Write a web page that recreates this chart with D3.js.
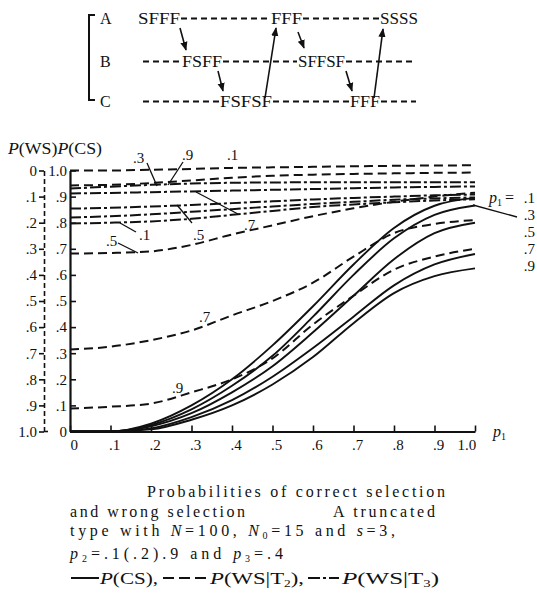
<!DOCTYPE html>
<html>
<head>
<meta charset="utf-8">
<script src="https://cdn.jsdelivr.net/npm/d3@7"></script>
<style>
  body { margin: 0; background: #fff; }
  svg { display: block; }
  text { font-family: "Liberation Serif", "DejaVu Serif", serif; fill: #111; }
</style>
</head>
<body>
<svg id="chart" width="537" height="593"></svg>
<script>
// ---- data ----
const p1 = [0, .1, .2, .3, .4, .5, .6, .7, .8, .9, 1.0];
const p2Levels = [".1", ".3", ".5", ".7", ".9"];

// P(CS), one array per p2
const pcs_p2_1 = [0, 0, 0.03, 0.10, 0.20, 0.33, 0.48, 0.64, 0.78, 0.865, 0.895];
const pcs_p2_3 = [0, 0, 0.025, 0.085, 0.175, 0.29, 0.44, 0.60, 0.74, 0.83, 0.866];
const pcs_p2_5 = [0, 0, 0.02, 0.07, 0.15, 0.25, 0.38, 0.52, 0.66, 0.76, 0.80];
const pcs_p2_7 = [0, 0, 0.012, 0.055, 0.12, 0.21, 0.32, 0.44, 0.56, 0.64, 0.68];
const pcs_p2_9 = [0, 0, 0.008, 0.045, 0.10, 0.18, 0.285, 0.415, 0.53, 0.595, 0.625];

// P(WS|T2)
const pws2_p2_1 = [0, 0, -0.003, -0.006, -0.01, -0.012, -0.014, -0.016, -0.018, -0.019, -0.02];
const pws2_p2_3 = [0.057, 0.055, 0.048, 0.038, 0.028, 0.02, 0.016, 0.013, 0.011, 0.009, 0.008];
const pws2_p2_5 = [0.318, 0.316, 0.31, 0.285, 0.245, 0.21, 0.175, 0.145, 0.12, 0.10, 0.085];
const pws2_p2_7 = [0.686, 0.675, 0.65, 0.613, 0.555, 0.50, 0.43, 0.33, 0.24, 0.205, 0.19];
const pws2_p2_9 = [0.912, 0.905, 0.893, 0.85, 0.80, 0.72, 0.59, 0.48, 0.38, 0.33, 0.30];

// P(WS|T3)
const pws3_p2_1 = [0.203, 0.20, 0.195, 0.185, 0.17, 0.155, 0.14, 0.13, 0.122, 0.115, 0.11];
const pws3_p2_3 = [0.18, 0.175, 0.168, 0.158, 0.148, 0.138, 0.128, 0.12, 0.112, 0.107, 0.103];
const pws3_p2_5 = [0.146, 0.143, 0.138, 0.132, 0.125, 0.118, 0.111, 0.105, 0.10, 0.095, 0.092];
const pws3_p2_7 = [0.088, 0.086, 0.083, 0.08, 0.077, 0.074, 0.071, 0.068, 0.065, 0.063, 0.061];
const pws3_p2_9 = [0.069, 0.062, 0.055, 0.05, 0.047, 0.046, 0.045, 0.045, 0.045, 0.045, 0.045];

const tickValues = [0, .1, .2, .3, .4, .5, .6, .7, .8, .9, 1.0];
const xTickLabels = ["0", ".1", ".2", ".3", ".4", ".5", ".6", ".7", ".8", ".9", "1.0"];
const csTickLabels = ["0", ".1", ".2", ".3", ".4", ".5", ".6", ".7", ".8", ".9", "1.0"];
const wsTickLabels = ["0", ".1", ".2", ".3", ".4", ".5", ".6", ".7", ".8", ".9", "1.0"];

// schematic at the top
const rowLabels = ["A", "B", "C"];
const rowWords = [["SFFF", "FFF", "SSSS"], ["FSFF", "SFFSF"], ["FSFSF", "FFF"]];

// ---- drawing ----
const svg = d3.select("#chart");
const ink = "#111";

const x = d3.scaleLinear().domain([0, 1]).range([70, 475]);
const y = d3.scaleLinear().domain([0, 1]).range([431.5, 170.5]);
const yWS = d3.scaleLinear().domain([0, 1]).range([170.5, 431.5]);

// schematic layout
const rowY = [23.5, 66.5, 106.5];
const wordX = [[138, 271, 380], [182, 298], [220, 350]];
const wordW = [[42, 31, 38], [40, 47], [52, 30]];
const rowSpan = [[138, 418], [143, 416], [143, 416]];

const diagram = svg.append("g");
diagram.append("path")
  .attr("d", "M95,15 H89 V100 H95")
  .attr("fill", "none").attr("stroke", ink).attr("stroke-width", 2);

rowLabels.forEach((lab, r) => {
  diagram.append("text").attr("x", 100).attr("y", rowY[r])
    .attr("font-size", 16).text(lab);
  const words = rowWords[r];
  let cur = rowSpan[r][0];
  words.forEach((w, i) => {
    const wx = wordX[r][i];
    if (wx - cur > 2) {
      diagram.append("line").attr("x1", cur).attr("x2", wx - 1)
        .attr("y1", rowY[r] - 5).attr("y2", rowY[r] - 5)
        .attr("stroke", ink).attr("stroke-width", 1.8).attr("stroke-dasharray", "6,4");
    }
    diagram.append("text").attr("x", wx).attr("y", rowY[r])
      .attr("font-size", 16)
      .attr("textLength", wordW[r][i]).attr("lengthAdjust", "spacingAndGlyphs")
      .text(w);
    cur = wx + wordW[r][i] + 1;
  });
  if (rowSpan[r][1] - cur > 2) {
    diagram.append("line").attr("x1", cur).attr("x2", rowSpan[r][1])
      .attr("y1", rowY[r] - 5).attr("y2", rowY[r] - 5)
      .attr("stroke", ink).attr("stroke-width", 1.8).attr("stroke-dasharray", "6,4");
  }
});

svg.append("defs").append("marker")
  .attr("id", "head").attr("viewBox", "0 0 10 10")
  .attr("refX", 9).attr("refY", 5)
  .attr("markerWidth", 9).attr("markerHeight", 9)
  .attr("markerUnits", "userSpaceOnUse")
  .attr("orient", "auto")
  .append("path").attr("d", "M0,1 L10,5 L0,9 Z").attr("fill", ink);

const arrows = [
  [180, 28, 186, 50], [218, 71, 223, 91], [265, 98, 276, 28],
  [298, 32, 304, 48], [346, 71, 352, 91], [374, 98, 383, 29]
];
arrows.forEach(a => {
  diagram.append("line")
    .attr("x1", a[0]).attr("y1", a[1]).attr("x2", a[2]).attr("y2", a[3])
    .attr("stroke", ink).attr("stroke-width", 1.6)
    .attr("marker-end", "url(#head)");
});

// axes
const xAxis = d3.axisBottom(x).tickValues(tickValues)
  .tickSizeInner(-6).tickSizeOuter(0).tickPadding(8)
  .tickFormat((d, i) => xTickLabels[i]);
const gx = svg.append("g").attr("transform", "translate(0,431.5)").call(xAxis);
gx.selectAll(".tick text")
  .attr("text-anchor", "start")
  .attr("x", (d, i) => i === 0 ? 0 : (i === tickValues.length - 1 ? -18 : -2));

const yAxis = d3.axisLeft(y).tickValues(tickValues)
  .tickSizeInner(-6).tickSizeOuter(0).tickPadding(3)
  .tickFormat((d, i) => csTickLabels[i]);
const gy = svg.append("g").attr("transform", "translate(70,0)").call(yAxis);

const wsAxis = d3.axisLeft(yWS).tickValues(tickValues)
  .tickSizeInner(5).tickSizeOuter(0).tickPadding(2)
  .tickFormat((d, i) => wsTickLabels[i]);
const gws = svg.append("g").attr("transform", "translate(44,0)").call(wsAxis);

[gx, gy, gws].forEach(g => {
  g.selectAll("text").attr("font-size", 15).attr("fill", ink)
    .attr("font-family", "Liberation Serif, serif");
  g.selectAll("line").attr("stroke", ink).attr("stroke-width", 1.6);
  g.select(".domain").attr("stroke", ink).attr("stroke-width", 2.2);
});
gws.select(".domain").attr("stroke-width", 1.6).attr("stroke-dasharray", "5,3");
gws.append("line").attr("x1", 0).attr("x2", 4)
  .attr("y1", yWS(1)).attr("y2", yWS(1)).attr("stroke", ink).attr("stroke-width", 1.6);

// axis titles
const t = svg.append("text").attr("x", 8).attr("y", 154).attr("font-size", 17)
  .attr("textLength", 94).attr("lengthAdjust", "spacingAndGlyphs");
t.append("tspan").attr("font-style", "italic").text("P");
t.append("tspan").text("(WS)");
t.append("tspan").attr("font-style", "italic").text("P");
t.append("tspan").text("(CS)");

const xl = svg.append("text").attr("x", 493).attr("y", 437).attr("font-size", 16);
xl.append("tspan").attr("font-style", "italic").text("p");
xl.append("tspan").attr("font-size", 10).attr("dy", 3).text("1");

// curves
const lineCS = d3.line().x((d, i) => x(p1[i])).y(d => y(d)).curve(d3.curveMonotoneX);
const lineWS = d3.line().x((d, i) => x(p1[i])).y(d => yWS(d)).curve(d3.curveMonotoneX);
const plot = svg.append("g").attr("fill", "none").attr("stroke", ink);

[pws3_p2_1, pws3_p2_3, pws3_p2_5, pws3_p2_7, pws3_p2_9].forEach(s => {
  plot.append("path").attr("d", lineWS(s))
    .attr("stroke-width", 2).attr("stroke-dasharray", "11,3,3,3");
});
[pws2_p2_1, pws2_p2_3, pws2_p2_5, pws2_p2_7, pws2_p2_9].forEach(s => {
  plot.append("path").attr("d", lineWS(s))
    .attr("stroke-width", 2).attr("stroke-dasharray", "9,5");
});
[pcs_p2_1, pcs_p2_3, pcs_p2_5, pcs_p2_7, pcs_p2_9].forEach(s => {
  plot.append("path").attr("d", lineCS(s)).attr("stroke-width", 1.9);
});

// curve labels and leaders
const notes = [
  { t: ".3", x: 133, y: 163, l: [147, 163, 157, 186] },
  { t: ".9", x: 182, y: 160, l: [183, 162, 168, 185] },
  { t: ".1", x: 227, y: 160 },
  { t: ".7", x: 244, y: 230, l: [196, 192, 238, 214] },
  { t: ".5", x: 193, y: 240, l: [177, 205, 192, 223] },
  { t: ".1", x: 139, y: 240, l: [120, 223, 136, 232] },
  { t: ".5", x: 106, y: 246, l: [118, 243, 138, 253] },
  { t: ".7", x: 199, y: 322 },
  { t: ".9", x: 172, y: 393 }
];
notes.forEach(n => {
  svg.append("text").attr("x", n.x).attr("y", n.y).attr("font-size", 15).text(n.t);
  if (n.l) {
    svg.append("line").attr("x1", n.l[0]).attr("y1", n.l[1])
      .attr("x2", n.l[2]).attr("y2", n.l[3])
      .attr("stroke", ink).attr("stroke-width", 1.3);
  }
});

const rightY = [203, 220, 237, 254, 271];
p2Levels.forEach((lv, i) => {
  svg.append("text").attr("x", 535).attr("y", rightY[i])
    .attr("text-anchor", "end").attr("font-size", 15).text(lv);
});
const pl = svg.append("text").attr("x", 489).attr("y", 203).attr("font-size", 16);
pl.append("tspan").attr("font-style", "italic").text("p");
pl.append("tspan").attr("font-size", 10).attr("dy", 3).text("1");
pl.append("tspan").attr("dy", -3).attr("dx", 3).text("=");
svg.append("line").attr("x1", 473).attr("y1", 205).attr("x2", 517).attr("y2", 217)
  .attr("stroke", ink).attr("stroke-width", 1.3);

// caption
function rich(xp, yp, len, parts, adjust, size) {
  const el = svg.append("text").attr("x", xp).attr("y", yp).attr("font-size", size || 16);
  if (len) el.attr("textLength", len).attr("lengthAdjust", adjust || "spacing");
  let shifted = false;
  parts.forEach(([s, st]) => {
    const ts = el.append("tspan").text(s);
    if (st === "i") ts.attr("font-style", "italic");
    if (st === "sub") { ts.attr("font-size", 10).attr("dy", 3); shifted = true; }
    else if (shifted) { ts.attr("dy", -3); shifted = false; }
  });
  return el;
}
rich(147, 497, 298, [["Probabilities of correct selection"]]);
rich(70, 517, 175, [["and wrong selection"]]);
rich(333, 517, 102, [["A truncated"]]);
rich(70, 536, 325, [["type with "], ["N", "i"], ["=100, "], ["N", "i"], ["0", "sub"], ["=15 and "], ["s", "i"], ["=3,"]]);
rich(70, 559, 213, [["p", "i"], ["2", "sub"], ["=.1(.2).9 and "], ["p", "i"], ["3", "sub"], ["=.4"]]);
rich(100, 584, 58, [["P", "i"], ["(CS),"]], "spacingAndGlyphs", 17);
rich(210, 584, 94, [["P", "i"], ["(WS|T"], ["2", "sub"], ["),"]], "spacingAndGlyphs", 17);
rich(342, 584, 97, [["P", "i"], ["(WS|T"], ["3", "sub"], [")"]], "spacingAndGlyphs", 17);

const leg = svg.append("g").attr("stroke", ink).attr("stroke-width", 2);
leg.append("line").attr("x1", 71).attr("x2", 99).attr("y1", 578).attr("y2", 578);
leg.append("line").attr("x1", 163).attr("x2", 207).attr("y1", 578).attr("y2", 578)
  .attr("stroke-dasharray", "11,5");
leg.append("line").attr("x1", 308).attr("x2", 339).attr("y1", 578).attr("y2", 578)
  .attr("stroke-dasharray", "12,3,3,3");
</script>
</body>
</html>
